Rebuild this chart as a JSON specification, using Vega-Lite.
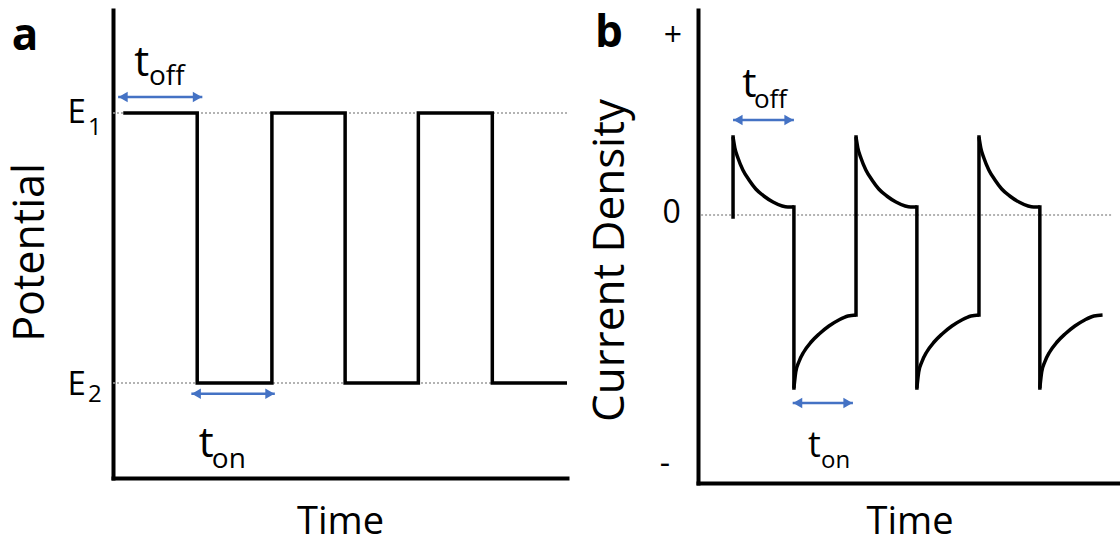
{
  "$schema": "https://vega.github.io/schema/vega-lite/v6.json",
  "padding": {"left": 9, "top": 10, "right": 0, "bottom": 0},
  "spacing": 14,
  "config": {
    "view": {"stroke": null},
    "axis": {"domainColor": "black", "domainWidth": 4, "domainCap": "square", "ticks": false, "labels": false, "grid": false, "titleFont": "Open Sans", "titleFontWeight": "normal", "titleColor": "black"},
    "text": {"font": "Open Sans", "color": "black"}
  },
  "hconcat": [
    {
      "width": 454,
      "height": 468,
      "layer": [
        {
          "data": {"values": [{"level": "E1", "value": 0.78}, {"level": "E2", "value": 0.203}]},
          "mark": {"type": "rule", "color": "#9a9a9a", "strokeWidth": 1.5, "strokeDash": [2, 2]},
          "encoding": {
            "y": {"field": "value", "type": "quantitative", "scale": {"domain": [0, 1], "nice": false, "zero": false}, "axis": {"title": "Potential", "titleFontSize": 43, "titlePadding": 61, "titleY": 242}}
          }
        },
        {
          "data": {"values": [
            {"step": 1, "time": 0.14, "value": 0.78},
            {"step": 2, "time": 1.15, "value": 0.78},
            {"step": 3, "time": 1.15, "value": 0.203},
            {"step": 4, "time": 2.17, "value": 0.203},
            {"step": 5, "time": 2.17, "value": 0.78},
            {"step": 6, "time": 3.17, "value": 0.78},
            {"step": 7, "time": 3.17, "value": 0.203},
            {"step": 8, "time": 4.17, "value": 0.203},
            {"step": 9, "time": 4.17, "value": 0.78},
            {"step": 10, "time": 5.18, "value": 0.78},
            {"step": 11, "time": 5.18, "value": 0.203},
            {"step": 12, "time": 6.2, "value": 0.203}
          ]},
          "mark": {"type": "line", "color": "black", "strokeWidth": 3.5, "strokeJoin": "miter"},
          "encoding": {
            "x": {"field": "time", "type": "quantitative", "scale": {"domain": [0, 6.2], "nice": false, "zero": false}, "axis": {"title": "Time", "titleFontSize": 38, "titlePadding": 25}},
            "y": {"field": "value", "type": "quantitative"},
            "order": {"field": "step"}
          }
        },
        {
          "data": {"values": [
            {"span": "t_off", "time": 0.07, "time2": 1.22, "value": 0.814},
            {"span": "t_on", "time": 1.07, "time2": 2.21, "value": 0.18}
          ]},
          "layer": [
            {"mark": {"type": "rule", "color": "#4472C4", "strokeWidth": 2.5},
             "encoding": {"x": {"field": "time", "type": "quantitative"}, "x2": {"field": "time2"}, "y": {"field": "value", "type": "quantitative"}}},
            {"mark": {"type": "point", "shape": "triangle-left", "filled": true, "opacity": 1, "size": 110, "color": "#4472C4", "xOffset": 5},
             "encoding": {"x": {"field": "time", "type": "quantitative"}, "y": {"field": "value", "type": "quantitative"}}},
            {"mark": {"type": "point", "shape": "triangle-right", "filled": true, "opacity": 1, "size": 110, "color": "#4472C4", "xOffset": -5},
             "encoding": {"x": {"field": "time2", "type": "quantitative"}, "y": {"field": "value", "type": "quantitative"}}}
          ]
        },
        {
          "data": {"values": [{"txt": "a", "time": -1.2, "value": 0.915}]},
          "mark": {"type": "text", "fontSize": 44, "fontWeight": "bold", "align": "center", "baseline": "alphabetic"},
          "encoding": {"x": {"field": "time", "type": "quantitative"}, "y": {"field": "value", "type": "quantitative"}, "text": {"field": "txt"}}
        },
        {
          "data": {"values": [{"txt": "E", "time": -0.37, "value": 0.759}, {"txt": "E", "time": -0.37, "value": 0.177}]},
          "mark": {"type": "text", "fontSize": 33, "align": "right", "baseline": "alphabetic"},
          "encoding": {"x": {"field": "time", "type": "quantitative"}, "y": {"field": "value", "type": "quantitative"}, "text": {"field": "txt"}}
        },
        {
          "data": {"values": [{"txt": "1", "time": -0.34, "value": 0.733}, {"txt": "2", "time": -0.34, "value": 0.162}]},
          "mark": {"type": "text", "fontSize": 24, "align": "left", "baseline": "alphabetic"},
          "encoding": {"x": {"field": "time", "type": "quantitative"}, "y": {"field": "value", "type": "quantitative"}, "text": {"field": "txt"}}
        },
        {
          "data": {"values": [{"txt": "t", "time": 0.29, "value": 0.859}, {"txt": "t", "time": 1.17, "value": 0.045}]},
          "mark": {"type": "text", "fontSize": 42, "align": "left", "baseline": "alphabetic"},
          "encoding": {"x": {"field": "time", "type": "quantitative"}, "y": {"field": "value", "type": "quantitative"}, "text": {"field": "txt"}}
        },
        {
          "data": {"values": [{"txt": "off", "time": 0.49, "value": 0.84}, {"txt": "on", "time": 1.35, "value": 0.021}]},
          "mark": {"type": "text", "fontSize": 28, "align": "left", "baseline": "alphabetic"},
          "encoding": {"x": {"field": "time", "type": "quantitative"}, "y": {"field": "value", "type": "quantitative"}, "text": {"field": "txt"}}
        }
      ]
    },
    {
      "width": 423,
      "height": 473,
      "layer": [
        {
          "data": {"values": [{"time": 0.05, "time2": 6.75, "value": 0}]},
          "mark": {"type": "rule", "color": "#9a9a9a", "strokeWidth": 1.5, "strokeDash": [2, 2]},
          "encoding": {
            "x": {"field": "time", "type": "quantitative", "scale": {"domain": [0, 6.88], "nice": false, "zero": false}, "axis": {"title": "Time", "titleFontSize": 38, "titlePadding": 20}},
            "x2": {"field": "time2"},
            "y": {"field": "value", "type": "quantitative", "scale": {"domain": [-2.68, 2.05], "nice": false, "zero": false}, "axis": {"title": "Current Density", "titleFontSize": 44, "titlePadding": 66, "titleY": 250}}
          }
        },
        {
          "data": {"values": [
            {"time": 0.57, "value": -0.02, "value2": 0.78},
            {"time": 1.56, "value": 0.08, "value2": -1.73},
            {"time": 2.57, "value": -1.0, "value2": 0.78},
            {"time": 3.56, "value": 0.08, "value2": -1.73},
            {"time": 4.57, "value": -1.0, "value2": 0.78},
            {"time": 5.56, "value": 0.08, "value2": -1.73}
          ]},
          "mark": {"type": "rule", "color": "black", "strokeWidth": 3.5, "strokeCap": "square"},
          "encoding": {"x": {"field": "time", "type": "quantitative"}, "y": {"field": "value", "type": "quantitative"}, "y2": {"field": "value2"}}
        },
        {
          "data": {"values": [
            {"seg": "d1", "step": 1, "time": 0.57, "value": 0.78},
            {"seg": "d1", "step": 2, "time": 0.6, "value": 0.67},
            {"seg": "d1", "step": 3, "time": 0.65, "value": 0.57},
            {"seg": "d1", "step": 4, "time": 0.73, "value": 0.45},
            {"seg": "d1", "step": 5, "time": 0.83, "value": 0.35},
            {"seg": "d1", "step": 6, "time": 0.94, "value": 0.26},
            {"seg": "d1", "step": 7, "time": 1.07, "value": 0.19},
            {"seg": "d1", "step": 8, "time": 1.22, "value": 0.13},
            {"seg": "d1", "step": 9, "time": 1.37, "value": 0.09},
            {"seg": "d1", "step": 10, "time": 1.46, "value": 0.08},
            {"seg": "d1", "step": 11, "time": 1.56, "value": 0.08},
            {"seg": "r1", "step": 1, "time": 1.56, "value": -1.73},
            {"seg": "r1", "step": 2, "time": 1.59, "value": -1.57},
            {"seg": "r1", "step": 3, "time": 1.64, "value": -1.47},
            {"seg": "r1", "step": 4, "time": 1.72, "value": -1.37},
            {"seg": "r1", "step": 5, "time": 1.84, "value": -1.27},
            {"seg": "r1", "step": 6, "time": 1.97, "value": -1.19},
            {"seg": "r1", "step": 7, "time": 2.13, "value": -1.11},
            {"seg": "r1", "step": 8, "time": 2.29, "value": -1.05},
            {"seg": "r1", "step": 9, "time": 2.44, "value": -1.01},
            {"seg": "r1", "step": 10, "time": 2.57, "value": -1.0},
            {"seg": "d2", "step": 1, "time": 2.57, "value": 0.78},
            {"seg": "d2", "step": 2, "time": 2.6, "value": 0.67},
            {"seg": "d2", "step": 3, "time": 2.65, "value": 0.57},
            {"seg": "d2", "step": 4, "time": 2.73, "value": 0.45},
            {"seg": "d2", "step": 5, "time": 2.83, "value": 0.35},
            {"seg": "d2", "step": 6, "time": 2.94, "value": 0.26},
            {"seg": "d2", "step": 7, "time": 3.07, "value": 0.19},
            {"seg": "d2", "step": 8, "time": 3.22, "value": 0.13},
            {"seg": "d2", "step": 9, "time": 3.37, "value": 0.09},
            {"seg": "d2", "step": 10, "time": 3.46, "value": 0.08},
            {"seg": "d2", "step": 11, "time": 3.56, "value": 0.08},
            {"seg": "r2", "step": 1, "time": 3.56, "value": -1.73},
            {"seg": "r2", "step": 2, "time": 3.59, "value": -1.57},
            {"seg": "r2", "step": 3, "time": 3.64, "value": -1.47},
            {"seg": "r2", "step": 4, "time": 3.72, "value": -1.37},
            {"seg": "r2", "step": 5, "time": 3.84, "value": -1.27},
            {"seg": "r2", "step": 6, "time": 3.97, "value": -1.19},
            {"seg": "r2", "step": 7, "time": 4.13, "value": -1.11},
            {"seg": "r2", "step": 8, "time": 4.29, "value": -1.05},
            {"seg": "r2", "step": 9, "time": 4.44, "value": -1.01},
            {"seg": "r2", "step": 10, "time": 4.57, "value": -1.0},
            {"seg": "d3", "step": 1, "time": 4.57, "value": 0.78},
            {"seg": "d3", "step": 2, "time": 4.6, "value": 0.67},
            {"seg": "d3", "step": 3, "time": 4.65, "value": 0.57},
            {"seg": "d3", "step": 4, "time": 4.73, "value": 0.45},
            {"seg": "d3", "step": 5, "time": 4.83, "value": 0.35},
            {"seg": "d3", "step": 6, "time": 4.94, "value": 0.26},
            {"seg": "d3", "step": 7, "time": 5.07, "value": 0.19},
            {"seg": "d3", "step": 8, "time": 5.22, "value": 0.13},
            {"seg": "d3", "step": 9, "time": 5.37, "value": 0.09},
            {"seg": "d3", "step": 10, "time": 5.46, "value": 0.08},
            {"seg": "d3", "step": 11, "time": 5.56, "value": 0.08},
            {"seg": "r3", "step": 1, "time": 5.56, "value": -1.73},
            {"seg": "r3", "step": 2, "time": 5.59, "value": -1.57},
            {"seg": "r3", "step": 3, "time": 5.64, "value": -1.47},
            {"seg": "r3", "step": 4, "time": 5.72, "value": -1.37},
            {"seg": "r3", "step": 5, "time": 5.84, "value": -1.27},
            {"seg": "r3", "step": 6, "time": 5.97, "value": -1.19},
            {"seg": "r3", "step": 7, "time": 6.13, "value": -1.11},
            {"seg": "r3", "step": 8, "time": 6.29, "value": -1.05},
            {"seg": "r3", "step": 9, "time": 6.44, "value": -1.01},
            {"seg": "r3", "step": 10, "time": 6.58, "value": -1.0}
          ]},
          "mark": {"type": "line", "color": "black", "strokeWidth": 3.5, "interpolate": "monotone"},
          "encoding": {"x": {"field": "time", "type": "quantitative"}, "y": {"field": "value", "type": "quantitative"}, "detail": {"field": "seg"}, "order": {"field": "step"}}
        },
        {
          "data": {"values": [
            {"span": "t_off", "time": 0.57, "time2": 1.56, "value": 0.95},
            {"span": "t_on", "time": 1.54, "time2": 2.52, "value": -1.88}
          ]},
          "layer": [
            {"mark": {"type": "rule", "color": "#4472C4", "strokeWidth": 2.5},
             "encoding": {"x": {"field": "time", "type": "quantitative"}, "x2": {"field": "time2"}, "y": {"field": "value", "type": "quantitative"}}},
            {"mark": {"type": "point", "shape": "triangle-left", "filled": true, "opacity": 1, "size": 110, "color": "#4472C4", "xOffset": 5},
             "encoding": {"x": {"field": "time", "type": "quantitative"}, "y": {"field": "value", "type": "quantitative"}}},
            {"mark": {"type": "point", "shape": "triangle-right", "filled": true, "opacity": 1, "size": 110, "color": "#4472C4", "xOffset": -5},
             "encoding": {"x": {"field": "time2", "type": "quantitative"}, "y": {"field": "value", "type": "quantitative"}}}
          ]
        },
        {
          "data": {"values": [{"txt": "b", "time": -1.45, "value": 1.68}]},
          "mark": {"type": "text", "fontSize": 44, "fontWeight": "bold", "align": "center", "baseline": "alphabetic"},
          "encoding": {"x": {"field": "time", "type": "quantitative"}, "y": {"field": "value", "type": "quantitative"}, "text": {"field": "txt"}}
        },
        {
          "data": {"values": [{"txt": "+", "time": -0.41, "value": 1.69}, {"txt": "0", "time": -0.43, "value": -0.08}, {"txt": "-", "time": -0.54, "value": -2.59}]},
          "mark": {"type": "text", "fontSize": 32, "align": "center", "baseline": "alphabetic"},
          "encoding": {"x": {"field": "time", "type": "quantitative"}, "y": {"field": "value", "type": "quantitative"}, "text": {"field": "txt"}}
        },
        {
          "data": {"values": [{"txt": "t", "time": 0.72, "value": 1.18}]},
          "mark": {"type": "text", "fontSize": 40, "align": "left", "baseline": "alphabetic"},
          "encoding": {"x": {"field": "time", "type": "quantitative"}, "y": {"field": "value", "type": "quantitative"}, "text": {"field": "txt"}}
        },
        {
          "data": {"values": [{"txt": "off", "time": 0.91, "value": 1.07}]},
          "mark": {"type": "text", "fontSize": 26, "align": "left", "baseline": "alphabetic"},
          "encoding": {"x": {"field": "time", "type": "quantitative"}, "y": {"field": "value", "type": "quantitative"}, "text": {"field": "txt"}}
        },
        {
          "data": {"values": [{"txt": "t", "time": 1.79, "value": -2.42}]},
          "mark": {"type": "text", "fontSize": 36, "align": "left", "baseline": "alphabetic"},
          "encoding": {"x": {"field": "time", "type": "quantitative"}, "y": {"field": "value", "type": "quantitative"}, "text": {"field": "txt"}}
        },
        {
          "data": {"values": [{"txt": "on", "time": 2.0, "value": -2.53}]},
          "mark": {"type": "text", "fontSize": 24, "align": "left", "baseline": "alphabetic"},
          "encoding": {"x": {"field": "time", "type": "quantitative"}, "y": {"field": "value", "type": "quantitative"}, "text": {"field": "txt"}}
        }
      ]
    }
  ]
}
